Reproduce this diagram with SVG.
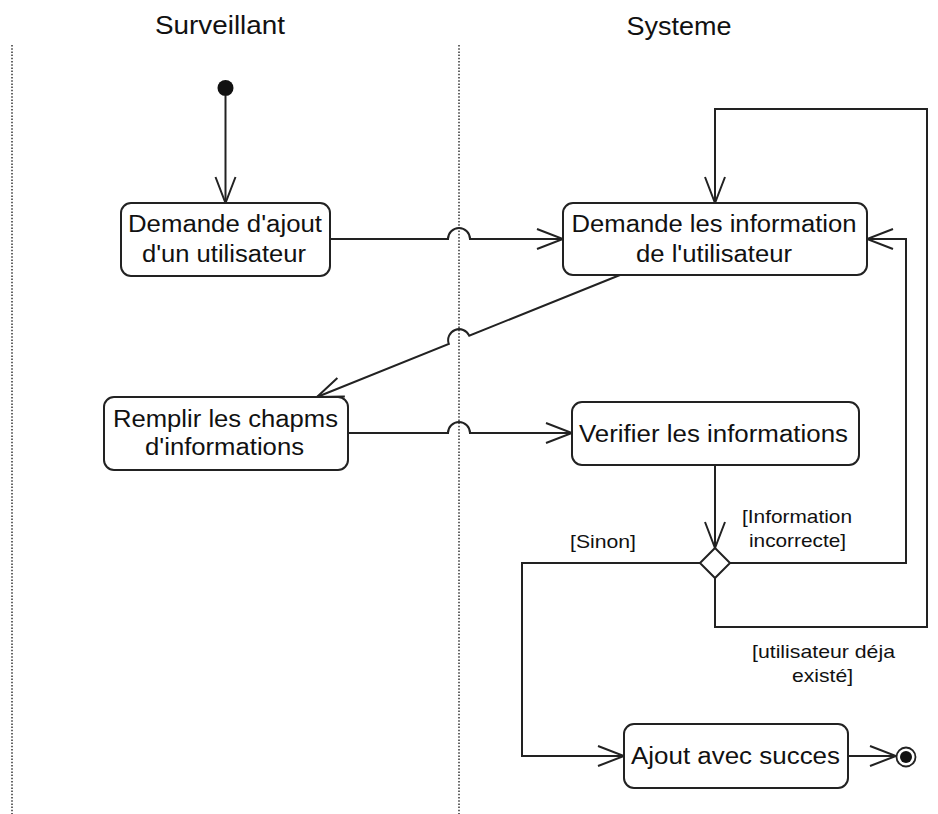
<svg xmlns="http://www.w3.org/2000/svg" width="938" height="814" viewBox="0 0 938 814">
<style>
  text { font-family: "Liberation Sans", Arial, sans-serif; fill: #111; }
  .hdr { font-size: 25px; }
  .nt { font-size: 23px; }
  .lbl { font-size: 18.5px; }
  .box { fill: #fff; stroke: #222; stroke-width: 2; }
  .conn { fill: none; stroke: #222; stroke-width: 2; }
  .lane { stroke: #555; stroke-width: 1.8; stroke-dasharray: 1.5 1.7; }
</style>
<defs>
  <marker id="arr" markerUnits="userSpaceOnUse" markerWidth="30" markerHeight="24" viewBox="-28 -12 30 24" refX="0" refY="0" orient="auto">
    <path d="M-26,-10 L0,0 L-26,10" fill="none" stroke="#222" stroke-width="2"/>
  </marker>
</defs>
<rect width="938" height="814" fill="#fff"/>

<g id="lanes">
  <line class="lane" x1="12" y1="45" x2="12" y2="814"/>
  <line class="lane" x1="459" y1="45" x2="459" y2="814"/>
  <text class="hdr" x="220" y="34" text-anchor="middle" textLength="130" lengthAdjust="spacingAndGlyphs">Surveillant</text>
  <text class="hdr" x="679" y="35" text-anchor="middle" textLength="105" lengthAdjust="spacingAndGlyphs">Systeme</text>
</g>

<g id="connectors">
  <path class="conn" d="M225.5,96 V203" marker-end="url(#arr)"/>
  <path class="conn" d="M330,239 H448 A11,11 0 0 1 470,239 H563" marker-end="url(#arr)"/>
  <path class="conn" d="M620,275 L469.2,335.7 A11,11 0 0 0 448.8,343.9 L317,397" marker-end="url(#arr)"/>
  <path class="conn" d="M348,433 H448 A11,11 0 0 1 470,433 H572" marker-end="url(#arr)"/>
  <path class="conn" d="M715,465 V548" marker-end="url(#arr)"/>
  <path class="conn" d="M730,563 H906 V239 H867" marker-end="url(#arr)"/>
  <path class="conn" d="M715,578 V627 H927 V109 H715 V203" marker-end="url(#arr)"/>
  <path class="conn" d="M700,563 H522 V756 H624" marker-end="url(#arr)"/>
  <path class="conn" d="M848,756 H896" marker-end="url(#arr)"/>
  <text class="lbl" x="797" y="523" text-anchor="middle" textLength="110" lengthAdjust="spacingAndGlyphs">[Information</text>
  <text class="lbl" x="797.5" y="547" text-anchor="middle" textLength="97" lengthAdjust="spacingAndGlyphs">incorrecte]</text>
  <text class="lbl" x="603" y="548" text-anchor="middle" textLength="66" lengthAdjust="spacingAndGlyphs">[Sinon]</text>
  <text class="lbl" x="823.5" y="658" text-anchor="middle" textLength="143" lengthAdjust="spacingAndGlyphs">[utilisateur déja</text>
  <text class="lbl" x="822.5" y="682" text-anchor="middle" textLength="61" lengthAdjust="spacingAndGlyphs">existé]</text>
</g>

<g id="start">
  <circle cx="225.5" cy="88" r="8" fill="#111"/>
</g>

<g id="n1">
  <rect class="box" x="121" y="203" width="209" height="73" rx="10"/>
  <text class="nt" x="225" y="232" text-anchor="middle" textLength="194" lengthAdjust="spacingAndGlyphs">Demande d'ajout</text>
  <text class="nt" x="224" y="262" text-anchor="middle" textLength="164" lengthAdjust="spacingAndGlyphs">d'un utilisateur</text>
</g>

<g id="n2">
  <rect class="box" x="563" y="203" width="304" height="72" rx="10"/>
  <text class="nt" x="714" y="232" text-anchor="middle" textLength="285" lengthAdjust="spacingAndGlyphs">Demande les information</text>
  <text class="nt" x="714" y="262" text-anchor="middle" textLength="156" lengthAdjust="spacingAndGlyphs">de l'utilisateur</text>
</g>

<g id="n3">
  <rect class="box" x="104" y="397" width="244" height="73" rx="10"/>
  <text class="nt" x="225.5" y="427" text-anchor="middle" textLength="225" lengthAdjust="spacingAndGlyphs">Remplir les chapms</text>
  <text class="nt" x="224.5" y="455" text-anchor="middle" textLength="159" lengthAdjust="spacingAndGlyphs">d'informations</text>
</g>

<g id="n4">
  <rect class="box" x="572" y="402" width="287" height="63" rx="10"/>
  <text class="nt" x="713.5" y="442" text-anchor="middle" textLength="269" lengthAdjust="spacingAndGlyphs">Verifier les informations</text>
</g>

<g id="decision">
  <path class="box" d="M715,548 L730,563 L715,578 L700,563 Z"/>
</g>

<g id="n5">
  <rect class="box" x="624" y="724" width="224" height="64" rx="10"/>
  <text class="nt" x="735.5" y="764" text-anchor="middle" textLength="209" lengthAdjust="spacingAndGlyphs">Ajout avec succes</text>
</g>

<g id="end">
  <circle cx="906" cy="757" r="9.5" fill="#fff" stroke="#222" stroke-width="1.8"/>
  <circle cx="906" cy="757" r="6" fill="#111"/>
</g>
</svg>
